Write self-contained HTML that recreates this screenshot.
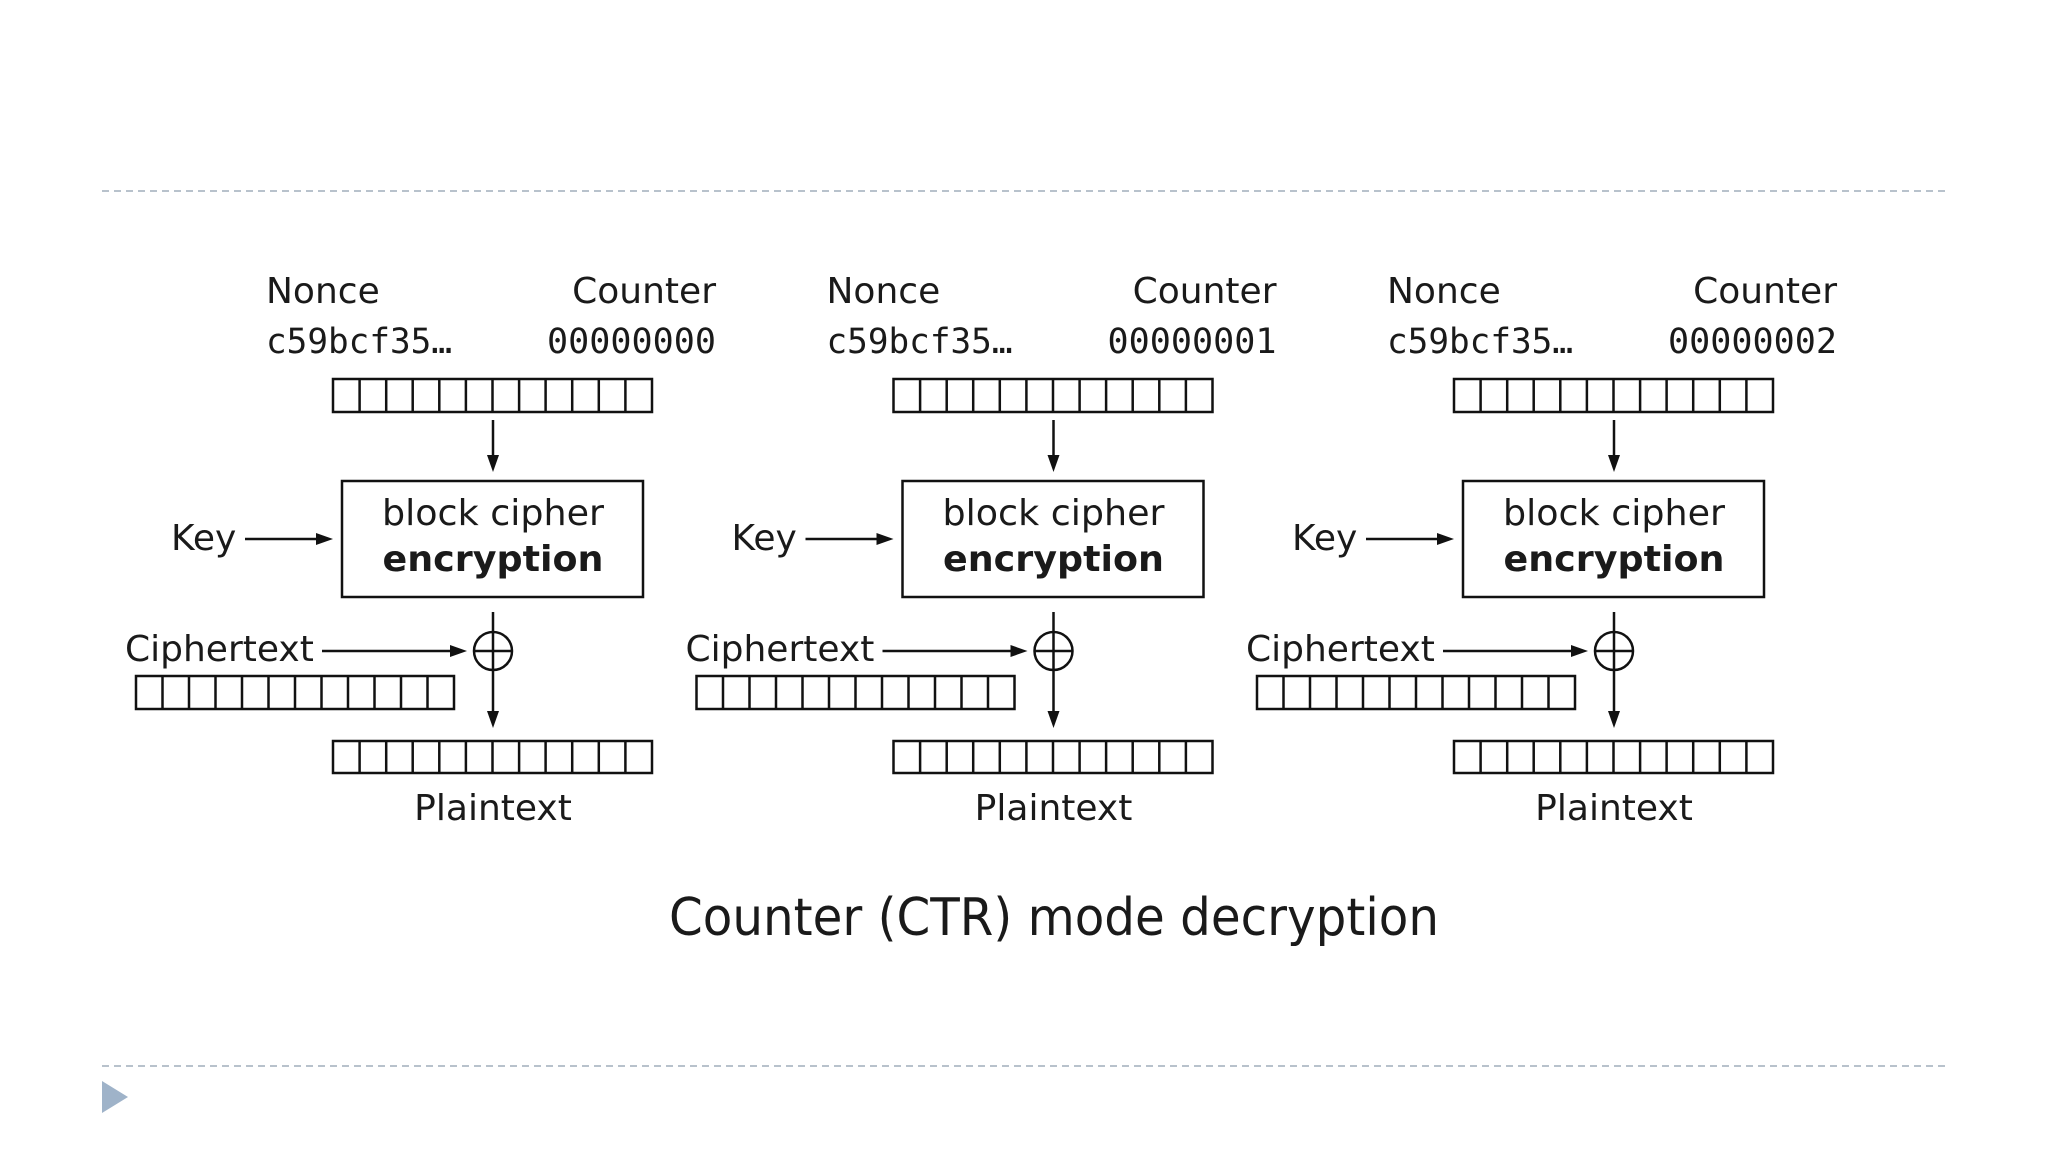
<!DOCTYPE html>
<html><head><meta charset="utf-8"><style>
html,body{margin:0;padding:0;background:#fff;}
svg{display:block;}
.s{font-family:"DejaVu Sans","Liberation Sans",sans-serif;font-size:36px;fill:#1a1a1a;}
.m{font-family:"DejaVu Sans Mono","Liberation Mono",monospace;font-size:35px;fill:#1a1a1a;}
.b{font-weight:bold;}
</style></head><body>
<svg width="2048" height="1152" viewBox="0 0 2048 1152" xmlns="http://www.w3.org/2000/svg">
<defs>
<pattern id="cells" x="0" y="0" width="26.58" height="40" patternUnits="userSpaceOnUse">
<line x1="0" y1="0" x2="0" y2="40" stroke="#111" stroke-width="2.5"/>
</pattern>
</defs>
<line x1="102" y1="191" x2="1946" y2="191" stroke="#b8c2cc" stroke-width="2" stroke-dasharray="7,5"/>
<line x1="102" y1="1066" x2="1946" y2="1066" stroke="#b8c2cc" stroke-width="2" stroke-dasharray="7,5"/>
<polygon points="102,1081 128,1097 102,1113" fill="#9fb3c9"/>

<g id="u1" stroke-linecap="butt">
<text class="s" x="266" y="303">Nonce</text>
<text class="s" x="716" y="303" text-anchor="end">Counter</text>
<text class="m" x="266" y="353" textLength="186" lengthAdjust="spacingAndGlyphs">c59bcf35…</text>
<text class="m" x="716" y="353" text-anchor="end" textLength="169" lengthAdjust="spacingAndGlyphs">00000000</text>
<g stroke="#111" stroke-width="2.5" fill="none">
<rect x="333" y="379" width="319" height="33"/>
<path d="M359.6 379v33M386.2 379v33M412.7 379v33M439.3 379v33M465.9 379v33M492.5 379v33M519.1 379v33M545.6 379v33M572.2 379v33M598.8 379v33M625.4 379v33"/>
<line x1="493" y1="420" x2="493" y2="460"/>
<rect x="342" y="481" width="301" height="116"/>
<line x1="245" y1="539" x2="322" y2="539"/>
<line x1="322" y1="651" x2="456" y2="651"/>
<circle cx="493" cy="651" r="19"/>
<line x1="474" y1="651" x2="512" y2="651"/>
<line x1="493" y1="612" x2="493" y2="716"/>
<rect x="136" y="676" width="318" height="33"/>
<path d="M162.5 676v33M189 676v33M215.5 676v33M242 676v33M268.5 676v33M295 676v33M321.5 676v33M348 676v33M374.5 676v33M401 676v33M427.5 676v33"/>
<rect x="333" y="741" width="319" height="32"/>
<path d="M359.6 741v32M386.2 741v32M412.7 741v32M439.3 741v32M465.9 741v32M492.5 741v32M519.1 741v32M545.6 741v32M572.2 741v32M598.8 741v32M625.4 741v32"/>
</g>
<g fill="#111">
<polygon points="493,472 487,455 499,455"/>
<polygon points="333,539 316,533 316,545"/>
<polygon points="467,651 450,645 450,657"/>
<polygon points="493,728 487,711 499,711"/>
</g>
<text class="s" x="493" y="525" text-anchor="middle" textLength="222" lengthAdjust="spacingAndGlyphs">block cipher</text>
<text class="s b" x="493" y="571" text-anchor="middle" textLength="221" lengthAdjust="spacingAndGlyphs">encryption</text>
<text class="s" x="171" y="550">Key</text>
<text class="s" x="125" y="661">Ciphertext</text>
<text class="s" x="493" y="820" text-anchor="middle">Plaintext</text>
</g>

<g transform="translate(560.5,0)" stroke-linecap="butt">
<text class="s" x="266" y="303">Nonce</text>
<text class="s" x="716" y="303" text-anchor="end">Counter</text>
<text class="m" x="266" y="353" textLength="186" lengthAdjust="spacingAndGlyphs">c59bcf35…</text>
<text class="m" x="716" y="353" text-anchor="end" textLength="169" lengthAdjust="spacingAndGlyphs">00000001</text>
<g stroke="#111" stroke-width="2.5" fill="none">
<rect x="333" y="379" width="319" height="33"/>
<path d="M359.6 379v33M386.2 379v33M412.7 379v33M439.3 379v33M465.9 379v33M492.5 379v33M519.1 379v33M545.6 379v33M572.2 379v33M598.8 379v33M625.4 379v33"/>
<line x1="493" y1="420" x2="493" y2="460"/>
<rect x="342" y="481" width="301" height="116"/>
<line x1="245" y1="539" x2="322" y2="539"/>
<line x1="322" y1="651" x2="456" y2="651"/>
<circle cx="493" cy="651" r="19"/>
<line x1="474" y1="651" x2="512" y2="651"/>
<line x1="493" y1="612" x2="493" y2="716"/>
<rect x="136" y="676" width="318" height="33"/>
<path d="M162.5 676v33M189 676v33M215.5 676v33M242 676v33M268.5 676v33M295 676v33M321.5 676v33M348 676v33M374.5 676v33M401 676v33M427.5 676v33"/>
<rect x="333" y="741" width="319" height="32"/>
<path d="M359.6 741v32M386.2 741v32M412.7 741v32M439.3 741v32M465.9 741v32M492.5 741v32M519.1 741v32M545.6 741v32M572.2 741v32M598.8 741v32M625.4 741v32"/>
</g>
<g fill="#111">
<polygon points="493,472 487,455 499,455"/>
<polygon points="333,539 316,533 316,545"/>
<polygon points="467,651 450,645 450,657"/>
<polygon points="493,728 487,711 499,711"/>
</g>
<text class="s" x="493" y="525" text-anchor="middle" textLength="222" lengthAdjust="spacingAndGlyphs">block cipher</text>
<text class="s b" x="493" y="571" text-anchor="middle" textLength="221" lengthAdjust="spacingAndGlyphs">encryption</text>
<text class="s" x="171" y="550">Key</text>
<text class="s" x="125" y="661">Ciphertext</text>
<text class="s" x="493" y="820" text-anchor="middle">Plaintext</text>
</g>

<g transform="translate(1121,0)" stroke-linecap="butt">
<text class="s" x="266" y="303">Nonce</text>
<text class="s" x="716" y="303" text-anchor="end">Counter</text>
<text class="m" x="266" y="353" textLength="186" lengthAdjust="spacingAndGlyphs">c59bcf35…</text>
<text class="m" x="716" y="353" text-anchor="end" textLength="169" lengthAdjust="spacingAndGlyphs">00000002</text>
<g stroke="#111" stroke-width="2.5" fill="none">
<rect x="333" y="379" width="319" height="33"/>
<path d="M359.6 379v33M386.2 379v33M412.7 379v33M439.3 379v33M465.9 379v33M492.5 379v33M519.1 379v33M545.6 379v33M572.2 379v33M598.8 379v33M625.4 379v33"/>
<line x1="493" y1="420" x2="493" y2="460"/>
<rect x="342" y="481" width="301" height="116"/>
<line x1="245" y1="539" x2="322" y2="539"/>
<line x1="322" y1="651" x2="456" y2="651"/>
<circle cx="493" cy="651" r="19"/>
<line x1="474" y1="651" x2="512" y2="651"/>
<line x1="493" y1="612" x2="493" y2="716"/>
<rect x="136" y="676" width="318" height="33"/>
<path d="M162.5 676v33M189 676v33M215.5 676v33M242 676v33M268.5 676v33M295 676v33M321.5 676v33M348 676v33M374.5 676v33M401 676v33M427.5 676v33"/>
<rect x="333" y="741" width="319" height="32"/>
<path d="M359.6 741v32M386.2 741v32M412.7 741v32M439.3 741v32M465.9 741v32M492.5 741v32M519.1 741v32M545.6 741v32M572.2 741v32M598.8 741v32M625.4 741v32"/>
</g>
<g fill="#111">
<polygon points="493,472 487,455 499,455"/>
<polygon points="333,539 316,533 316,545"/>
<polygon points="467,651 450,645 450,657"/>
<polygon points="493,728 487,711 499,711"/>
</g>
<text class="s" x="493" y="525" text-anchor="middle" textLength="222" lengthAdjust="spacingAndGlyphs">block cipher</text>
<text class="s b" x="493" y="571" text-anchor="middle" textLength="221" lengthAdjust="spacingAndGlyphs">encryption</text>
<text class="s" x="171" y="550">Key</text>
<text class="s" x="125" y="661">Ciphertext</text>
<text class="s" x="493" y="820" text-anchor="middle">Plaintext</text>
</g>

<text class="s" x="669" y="935" style="font-size:52px" textLength="770" lengthAdjust="spacingAndGlyphs">Counter (CTR) mode decryption</text>
</svg>
</body></html>
